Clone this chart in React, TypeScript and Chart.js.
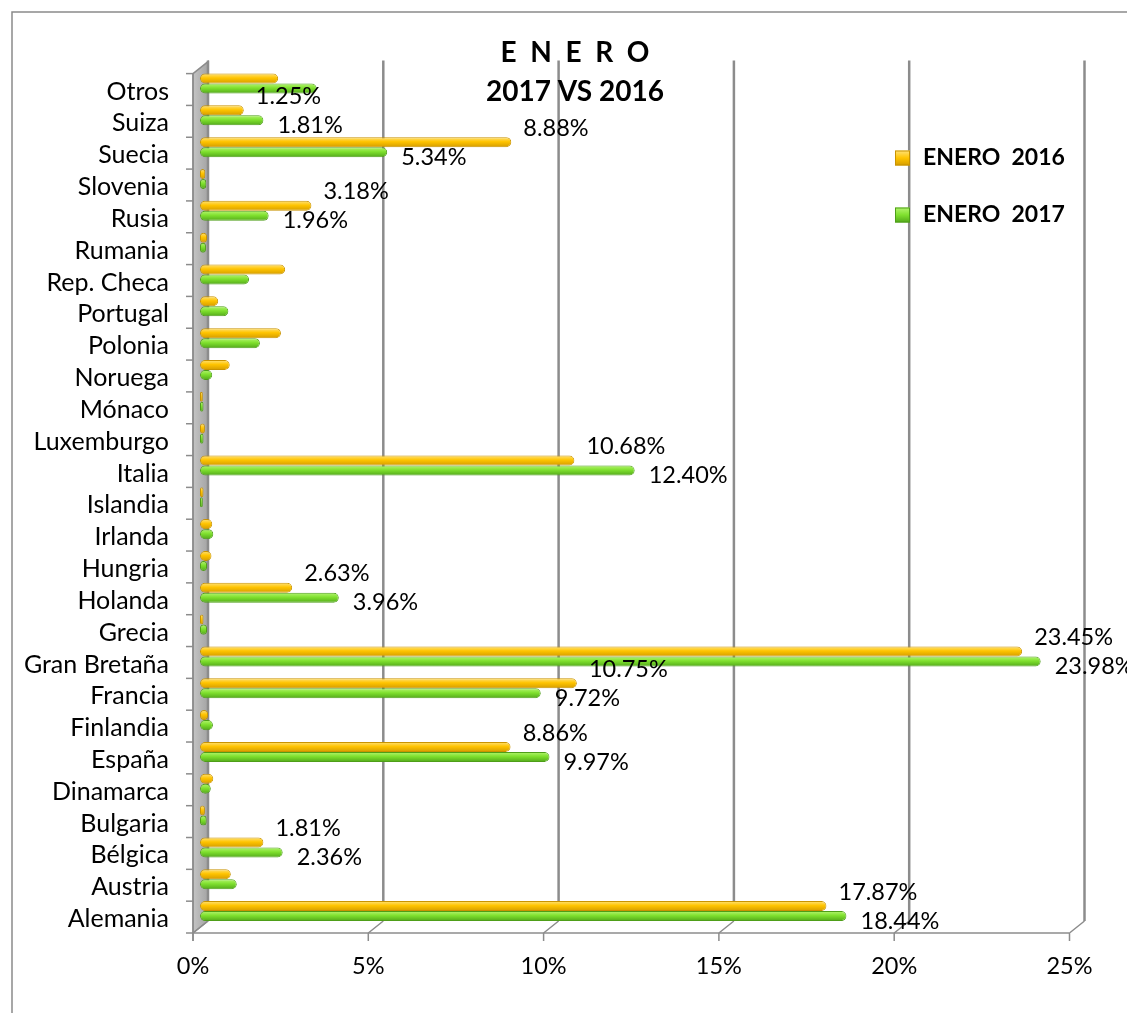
import React, { useEffect, useRef } from "react";
import { Chart, registerables } from "chart.js";

Chart.register(...registerables);

const categories = [
  "Otros", "Suiza", "Suecia", "Slovenia", "Rusia", "Rumania", "Rep. Checa", "Portugal",
  "Polonia", "Noruega", "Mónaco", "Luxemburgo", "Italia", "Islandia", "Irlanda", "Hungria",
  "Holanda", "Grecia", "Gran Bretaña", "Francia", "Finlandia", "España", "Dinamarca",
  "Bulgaria", "Bélgica", "Austria", "Alemania",
];

const enero2016 = [
  2.23, 1.25, 8.88, 0.15, 3.18, 0.2, 2.43, 0.52,
  2.31, 0.85, 0.08, 0.14, 10.68, 0.1, 0.35, 0.33,
  2.63, 0.1, 23.45, 10.75, 0.23, 8.86, 0.38,
  0.14, 1.81, 0.88, 17.87,
];

const enero2017 = [
  3.33, 1.81, 5.34, 0.18, 1.96, 0.17, 1.4, 0.81,
  1.71, 0.35, 0.1, 0.1, 12.4, 0.08, 0.38, 0.2,
  3.96, 0.2, 23.98, 9.72, 0.37, 9.97, 0.31,
  0.19, 2.36, 1.05, 18.44,
];

const labeled2016 = ["Suiza", "Suecia", "Rusia", "Italia", "Holanda", "Gran Bretaña", "Francia", "España", "Bélgica", "Alemania"];
const labeled2017 = ["Suiza", "Suecia", "Rusia", "Italia", "Holanda", "Gran Bretaña", "Francia", "España", "Bélgica", "Alemania"];

const xTicks = [0, 5, 10, 15, 20, 25];
const seriesNames = ["ENERO  2016", "ENERO  2017"];
const titleLines = ["E  N  E  R  O", "2017 VS 2016"];

const FONT = "Lato, 'Open Sans', sans-serif";
const LINE = "#8c8c8c";

const FRONT_DX = -7;
const FRONT_DY = 6;
const BACK_DX = 8;
const BACK_DY = -6;

const palettes = [
  { top: "#FFE27A", mid: "#FFC400", bottom: "#D49C00", border: "#C99300" },
  { top: "#B4F570", mid: "#7FE02E", bottom: "#52A81A", border: "#4E9E18" },
];

function barFill(c: any) {
  const p = palettes[c.datasetIndex] || palettes[0];
  const ys = c.chart.scales && c.chart.scales.y;
  if (!ys || c.dataIndex == null || ys.top == null) return p.mid;
  const band = (ys.bottom - ys.top) / categories.length;
  const half = (band * 0.63) / 4;
  const cy = ys.getPixelForValue(c.dataIndex) + (c.datasetIndex === 0 ? -half : half);
  if (!isFinite(cy)) return p.mid;
  const g = c.chart.ctx.createLinearGradient(0, cy - half, 0, cy + half);
  g.addColorStop(0, p.top);
  g.addColorStop(0.45, p.mid);
  g.addColorStop(1, p.bottom);
  return g;
}

const framePlugin = {
  id: "frame3d",
  beforeDatasetsDraw(chart: any) {
    const { ctx } = chart;
    const xs = chart.scales.x;
    const ys = chart.scales.y;
    const top = ys.top;
    const bottom = ys.bottom;
    const x0 = xs.getPixelForValue(0);
    ctx.save();
    const g = ctx.createLinearGradient(x0 + FRONT_DX, 0, x0 + BACK_DX, 0);
    g.addColorStop(0, "#c4c4c4");
    g.addColorStop(1, "#a4a4a4");
    ctx.fillStyle = g;
    ctx.beginPath();
    ctx.moveTo(x0 + FRONT_DX, top + FRONT_DY);
    ctx.lineTo(x0 + BACK_DX, top + BACK_DY);
    ctx.lineTo(x0 + BACK_DX, bottom + BACK_DY);
    ctx.lineTo(x0 + FRONT_DX, bottom + FRONT_DY);
    ctx.closePath();
    ctx.fill();
    ctx.strokeStyle = LINE;
    ctx.lineWidth = 1.5;
    ctx.stroke();
    ctx.lineWidth = 2.5;
    ctx.strokeStyle = LINE;
    xTicks.forEach((v) => {
      const px = xs.getPixelForValue(v) + BACK_DX;
      ctx.beginPath();
      ctx.moveTo(px, top + BACK_DY - 1);
      ctx.lineTo(px, bottom + BACK_DY);
      ctx.stroke();
    });
    ctx.lineWidth = 1.5;
    const fy = bottom + FRONT_DY;
    ctx.beginPath();
    ctx.moveTo(x0 + FRONT_DX, fy);
    ctx.lineTo(xs.getPixelForValue(25) + FRONT_DX, fy);
    ctx.stroke();
    xTicks.forEach((v) => {
      const p = xs.getPixelForValue(v);
      ctx.beginPath();
      ctx.moveTo(p + FRONT_DX, fy);
      ctx.lineTo(p + BACK_DX, bottom + BACK_DY);
      ctx.moveTo(p + FRONT_DX, fy);
      ctx.lineTo(p + FRONT_DX, fy + 8);
      ctx.stroke();
    });
    ctx.beginPath();
    ctx.moveTo(x0 + FRONT_DX, top + FRONT_DY);
    ctx.lineTo(x0 + FRONT_DX, fy + 8);
    ctx.stroke();
    const n = categories.length;
    const h = (bottom - top) / n;
    for (let k = 0; k <= n; k++) {
      const y = top + FRONT_DY + k * h;
      ctx.beginPath();
      ctx.moveTo(x0 + FRONT_DX - 7, y);
      ctx.lineTo(x0 + FRONT_DX, y);
      ctx.stroke();
    }
    ctx.restore();
  },
  afterDatasetsDraw(chart: any) {
    const { ctx } = chart;
    ctx.save();
    ctx.font = `23.5px ${FONT}`;
    ctx.fillStyle = "#000";
    ctx.textAlign = "left";
    ctx.textBaseline = "middle";
    const sets = [
      { list: labeled2016, dx: 12, dy: -14 },
      { list: labeled2017, dx: 14, dy: 5 },
    ];
    sets.forEach((s, di) => {
      const meta = chart.getDatasetMeta(di);
      const values = chart.data.datasets[di].data;
      categories.forEach((c, i) => {
        if (!s.list.includes(c)) return;
        const el = meta.data[i];
        ctx.fillText(`${Number(values[i]).toFixed(2)}%`, el.x + s.dx, el.y + s.dy);
      });
    });
    ctx.restore();
  },
  afterDraw(chart: any) {
    const { ctx } = chart;
    ctx.save();
    ctx.strokeStyle = "#8a8a8a";
    ctx.lineWidth = 1.5;
    ctx.beginPath();
    ctx.moveTo(12, 1013);
    ctx.lineTo(12, 12);
    ctx.lineTo(1127, 12);
    ctx.stroke();
    ctx.fillStyle = "#000";
    ctx.font = `bold 28px ${FONT}`;
    ctx.textAlign = "center";
    ctx.textBaseline = "middle";
    ctx.fillText(titleLines[0], 575, 53);
    ctx.fillText(titleLines[1], 575, 92);
    const ys = [158, 215];
    chart.data.datasets.forEach((ds: any, i: number) => {
      const y = ys[i];
      const p = palettes[i];
      const g = ctx.createLinearGradient(0, y - 7.5, 0, y + 7.5);
      g.addColorStop(0, p.top);
      g.addColorStop(0.5, p.mid);
      g.addColorStop(1, p.bottom);
      ctx.fillStyle = g;
      ctx.fillRect(895, y - 7.5, 15, 15);
      ctx.strokeStyle = p.border;
      ctx.lineWidth = 1;
      ctx.strokeRect(895.5, y - 7, 14, 14);
      ctx.fillStyle = "#000";
      ctx.font = `bold 23px ${FONT}`;
      ctx.textAlign = "left";
      ctx.fillText(ds.label, 923, y);
    });
    ctx.restore();
  },
};

export default function App() {
  const ref = useRef<HTMLCanvasElement | null>(null);
  useEffect(() => {
    if (!ref.current) return;
    const chart = new Chart(ref.current, {
      type: "bar",
      data: {
        labels: categories,
        datasets: [
          {
            label: seriesNames[0],
            data: enero2016,
            backgroundColor: barFill,
            borderColor: palettes[0].border,
            borderWidth: 1,
            borderRadius: 5,
            borderSkipped: false,
          },
          {
            label: seriesNames[1],
            data: enero2017,
            backgroundColor: barFill,
            borderColor: palettes[1].border,
            borderWidth: 1,
            borderRadius: 5,
            borderSkipped: false,
          },
        ],
      },
      options: {
        indexAxis: "y",
        responsive: false,
        animation: false,
        categoryPercentage: 0.63,
        barPercentage: 1,
        layout: { padding: { top: 67.6, right: 50.5, bottom: 0, left: 0 } },
        plugins: {
          legend: { display: false },
          title: { display: false },
          tooltip: { enabled: false },
        },
        scales: {
          x: {
            min: 0,
            max: 25,
            grid: { display: false, drawTicks: false },
            border: { display: false },
            afterFit: (s: any) => { s.height = 86; },
            ticks: {
              stepSize: 5,
              padding: 25,
              labelOffset: FRONT_DX,
              color: "#000",
              font: { family: FONT, size: 23.5 },
              callback: (v: any) => `${v}%`,
            },
          },
          y: {
            grid: { display: false, drawTicks: false },
            border: { display: false },
            afterFit: (s: any) => { s.width = 200; },
            ticks: {
              padding: 31,
              labelOffset: 8,
              color: "#000",
              autoSkip: false,
              font: { family: FONT, size: 25 },
            },
          },
        },
      },
      plugins: [framePlugin],
    });
    return () => chart.destroy();
  }, []);
  return (
    <div style={{ position: "fixed", left: 0, top: 0, width: 1127, height: 1013, background: "#fff" }}>
      <canvas ref={ref} width={1127} height={1013} style={{ display: "block" }} />
    </div>
  );
}
